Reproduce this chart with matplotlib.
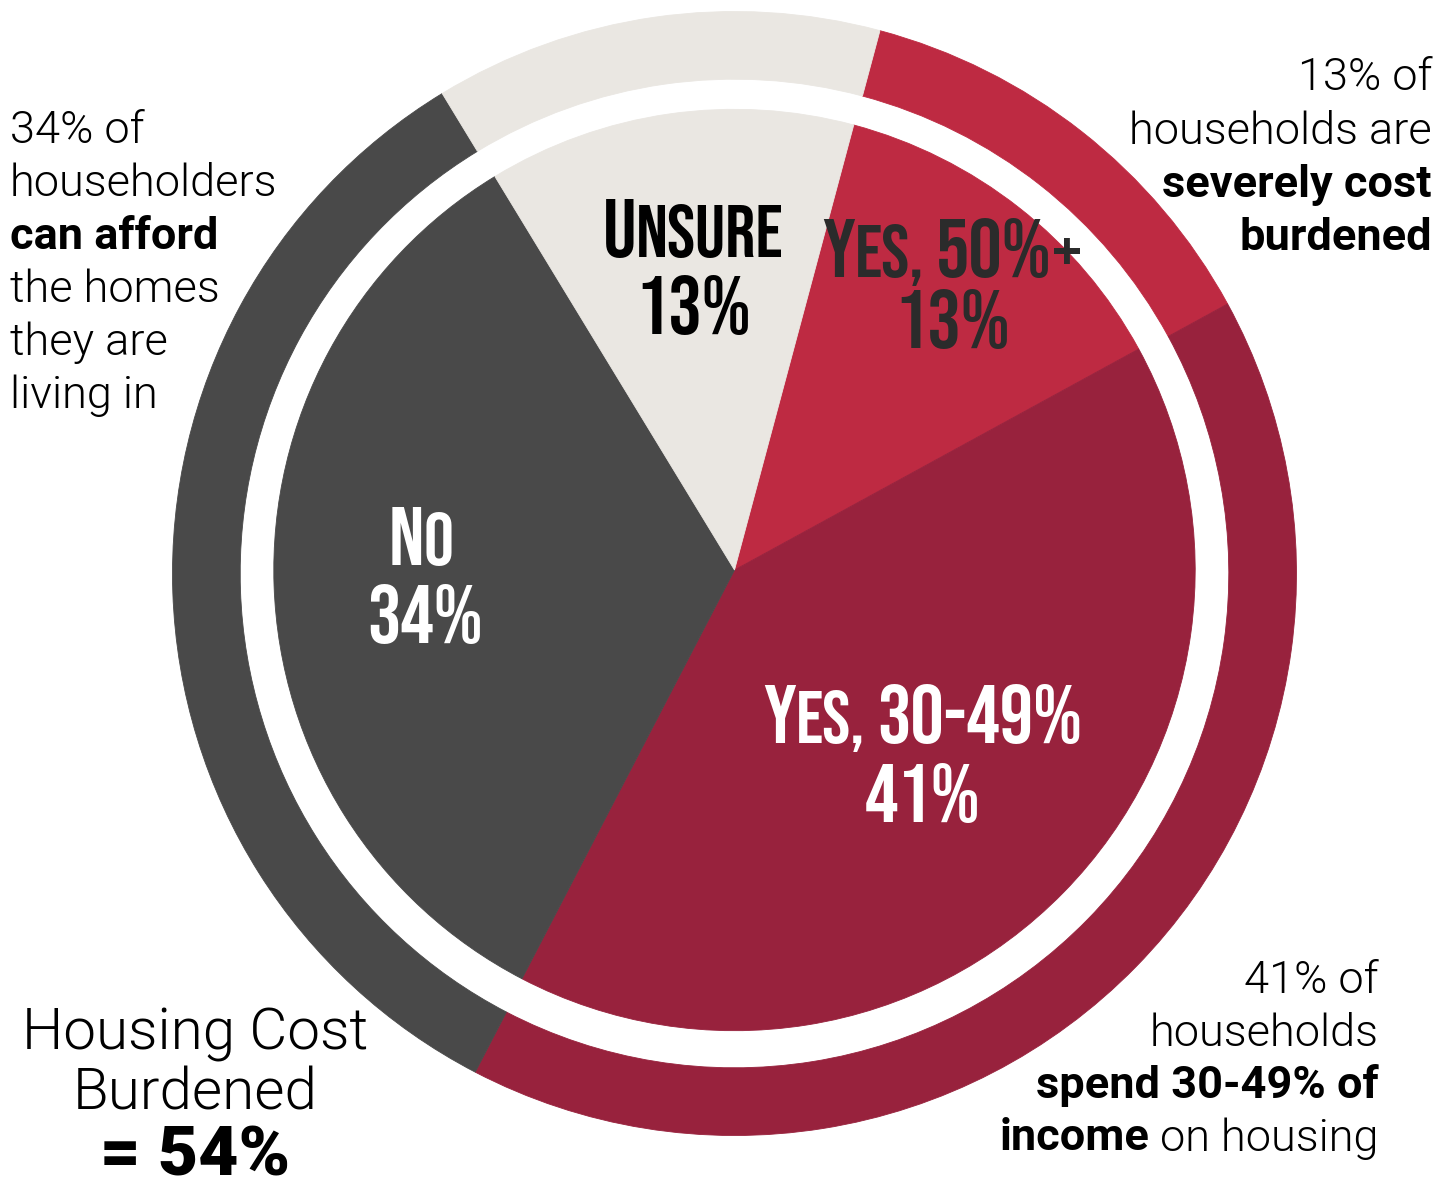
import matplotlib
matplotlib.use("Agg")
import matplotlib.pyplot as plt

# Share of households by housing cost burden (percent)
categories = ["Yes, 50%+", "Yes, 30-49%", "No", "Unsure"]
shares = [13, 41, 34, 13]
colors = ["#BE2A42", "#98223D", "#494949", "#EAE7E2"]
burdened_total = 54

W, H = 1452, 1186
BODY = "Roboto"
DISPLAY = "Bebas Neue"

fig = plt.figure(figsize=(W / 100, H / 100), dpi=100)
ax = fig.add_axes([0, 0, 1, 1])

# outer ring
ring, _ = ax.pie(shares, colors=colors, radius=562, center=(734.5, H - 573.5),
                 startangle=75, counterclock=False, wedgeprops=dict(width=67.7))
# inner pie
pie, _ = ax.pie(shares, colors=colors, radius=460.7, center=(734.5, H - 570),
                startangle=75, counterclock=False)
for w in ring + pie:
    w.set_edgecolor(w.get_facecolor())
    w.set_linewidth(0.6)

ax.set_xlim(0, W)
ax.set_ylim(0, H)
ax.set_aspect("auto")
ax.axis("off")

renderer = fig.canvas.get_renderer()


def text_width(s, **kw):
    t = ax.text(0, 0, s, **kw)
    w = t.get_window_extent(renderer).width
    t.remove()
    return w


def rich_line(x, y_px, parts, ha="left", color="black", family=BODY):
    """Draw one line made of differently styled pieces along a shared baseline.
    parts: list of (string, fontsize, weight); a lone " " adds a word gap."""
    y = H - y_px
    items = []
    for s, fs, fw in parts:
        kw = dict(fontsize=fs, fontweight=fw, family=family, color=color)
        if s == " ":
            gap = text_width("n n", **kw) - text_width("nn", **kw)
            items.append((None, gap))
        else:
            t = ax.text(0, y, s, va="baseline", ha="left", zorder=5, **kw)
            items.append((t, t.get_window_extent(renderer).width))
    total = sum(w for _, w in items)
    xpos = x - {"left": 0, "center": total / 2, "right": total}[ha]
    for t, w in items:
        if t is not None:
            t.set_x(xpos)
        xpos += w


# slice labels, small caps set by hand
BIG, SMALL = 60, 54
rich_line(693, 257, [("U", BIG, "normal"), ("NSURE", SMALL, "normal")],
          ha="center", family=DISPLAY)
rich_line(693, 334, [(f"{shares[3]}%", BIG, "normal")], ha="center", family=DISPLAY)

rich_line(952, 277, [("Y", BIG, "normal"), ("ES,", SMALL, "normal"), (" ", SMALL, "normal"),
                     ("50%", BIG, "normal"), ("+", SMALL, "normal")],
          ha="center", color="#2B2B2B", family=DISPLAY)
rich_line(952, 348, [(f"{shares[0]}%", BIG, "normal")], ha="center",
          color="#2B2B2B", family=DISPLAY)

rich_line(923, 743, [("Y", BIG, "normal"), ("ES,", SMALL, "normal"), (" ", SMALL, "normal"),
                     ("30-49%", BIG, "normal")],
          ha="center", color="white", family=DISPLAY)
rich_line(923, 822, [(f"{shares[1]}%", BIG, "normal")], ha="center",
          color="white", family=DISPLAY)

rich_line(421, 565, [("N", BIG, "normal"), ("O", SMALL, "normal")],
          ha="center", color="white", family=DISPLAY)
rich_line(425, 643, [(f"{shares[2]}%", BIG, "normal")], ha="center",
          color="white", family=DISPLAY)

# side notes
FS = 32.5
left_note = [
    [(f"{shares[2]}% of", FS, 300)],
    [("householders", FS, 300)],
    [("can afford", FS, 700)],
    [("the homes", FS, 300)],
    [("they are", FS, 300)],
    [("living in", FS, 300)],
]
for i, parts in enumerate(left_note):
    rich_line(10, 143 + 53 * i, parts)

top_note = [
    [(f"{shares[0]}% of", FS, 300)],
    [("households are", FS, 300)],
    [("severely cost", FS, 700)],
    [("burdened", FS, 700)],
]
for i, parts in enumerate(top_note):
    rich_line(1432, 90 + 53.5 * i, parts, ha="right")

bottom_note = [
    [(f"{shares[1]}% of", FS, 300)],
    [("households", FS, 300)],
    [("spend 30-49% of", FS, 700)],
    [("income", FS, 700), (" ", FS, 300), ("on housing", FS, 300)],
]
for i, parts in enumerate(bottom_note):
    rich_line(1379, 993 + 52.5 * i, parts, ha="right")

# headline total
rich_line(195, 1050, [("Housing Cost", 42, 300)], ha="center")
rich_line(195, 1110, [("Burdened", 42, 300)], ha="center")
rich_line(195, 1176, [(f"= {burdened_total}%", 50, 900)], ha="center")

fig.savefig("out.png", dpi=100)
